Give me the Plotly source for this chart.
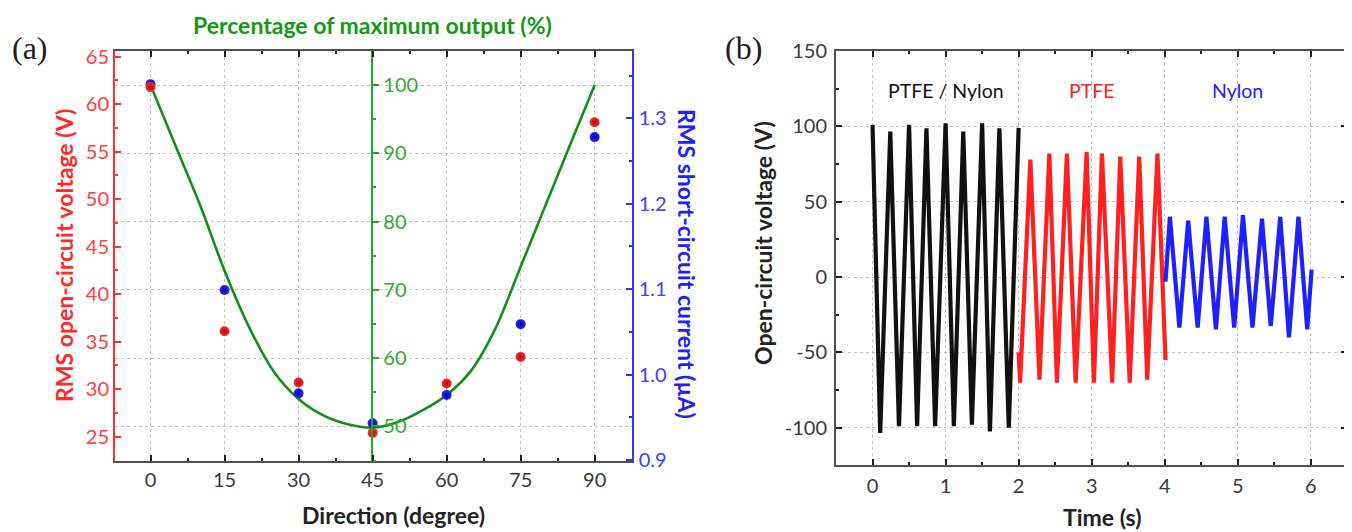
import plotly.graph_objects as go

W, H = 1352, 532
OFF = 8  # page body margin offset of the rendered figure

# ---------------- Panel (a) data ----------------
direction = [0, 15, 30, 45, 60, 75, 90]
rms_voltage = [61.8, 36.1, 30.7, 25.4, 30.6, 33.4, 58.1]
rms_current = [1.340, 1.099, 0.978, 0.943, 0.976, 1.059, 1.278]
fit_direction = [0, 5, 10, 15, 20, 25, 30, 35, 40, 45, 50, 55, 60, 65, 70, 75, 80, 85, 90]
fit_percent = [100, 91.2, 82.5, 72.8, 64.5, 58.0, 54.0, 51.6, 50.3, 49.8, 50.6, 52.3,
               54.6, 58.2, 64.5, 73.4, 82.3, 91.2, 100]
dir_ticks = [0, 15, 30, 45, 60, 75, 90]

# ---------------- Panel (b) data ----------------
t_ptfe_nylon = [0.0, 0.105, 0.243, 0.362, 0.50, 0.61, 0.738, 0.857, 1.0, 1.113, 1.242,
                1.36, 1.5, 1.607, 1.736, 1.865, 2.0]
v_ptfe_nylon = [101, -103.5, 96.5, -99, 101, -99, 98.7, -99, 102, -99, 96.5, -98, 102,
                -102.5, 98.7, -100, 99]
t_ptfe = [2.0, 2.02, 2.16, 2.285, 2.42, 2.524, 2.66, 2.78, 2.93, 3.03, 3.14, 3.28, 3.39,
          3.52, 3.65, 3.76, 3.90, 4.01]
v_ptfe = [-50, -70, 78, -68, 82, -70, 82, -70, 83, -70, 82, -70, 80, -70, 80, -68, 82, -55]
t_nylon = [4.01, 4.07, 4.2, 4.32, 4.45, 4.57, 4.70, 4.82, 4.95, 5.07, 5.20, 5.33, 5.45,
           5.58, 5.70, 5.83, 5.95, 6.01]
v_nylon = [-3, 40, -33.5, 37.5, -33.5, 40, -34.7, 40, -33.5, 41, -33.5, 38.7, -32.5, 40,
           -40, 40, -34.7, 5]
time_ticks = [0, 1, 2, 3, 4, 5, 6]
voltage_ticks = [-100, -50, 0, 50, 100, 150]
voltage_tick_text = ["-100", "-50", "0", "50", "100", "150"]
segment_labels = ["PTFE / Nylon", "PTFE", "Nylon"]
segment_label_t = [1.0, 3.0, 5.0]
segment_colors = ["#111111", "#ff2020", "#2020ff"]

FONT = "Lato"
RED = "#ff3030"
BLUE = "#3030ff"
GREEN_AX = "#2aa52a"
GREEN_LINE = "#13901a"
GREEN_TITLE = "#129a12"
GRID = "#c4c4c4"
FRAME = "#505050"
TICK_SIZE = 20
TITLE_SIZE = 23


def px(x):
    return (x - OFF) / W


def py(y):
    return 1 - (y - OFF) / H


fig = go.Figure()

fig.add_trace(go.Scatter(x=fit_direction, y=fit_percent, mode="lines",
                         line=dict(color=GREEN_LINE, width=2.6, shape="spline", smoothing=0.8),
                         xaxis="x", yaxis="y", showlegend=False))
fig.add_trace(go.Scatter(x=direction, y=rms_current, mode="markers",
                         marker=dict(color="#2828ff", size=10,
                                     gradient=dict(type="radial", color="#0000a0"),
                                     line=dict(width=0)),
                         xaxis="x", yaxis="y2", showlegend=False))
fig.add_trace(go.Scatter(x=direction, y=rms_voltage, mode="markers",
                         marker=dict(color="#ff3030", size=10,
                                     gradient=dict(type="radial", color="#b00000"),
                                     line=dict(width=0)),
                         xaxis="x", yaxis="y3", showlegend=False))

for t, v, c in [(t_ptfe_nylon, v_ptfe_nylon, segment_colors[0]),
                (t_ptfe, v_ptfe, segment_colors[1]),
                (t_nylon, v_nylon, segment_colors[2])]:
    fig.add_trace(go.Scatter(x=t, y=v, mode="lines", line=dict(color=c, width=4.2),
                             xaxis="x2", yaxis="y4", showlegend=False))

dom_a_x = [px(115), px(631.7)]
dom_a_y = [py(461), py(51)]
dom_b_x = [px(836), px(1346.7)]
dom_b_y = [py(465), py(51)]

tickfont = dict(family=FONT, size=TICK_SIZE, color="#3a3a3a")

fig.update_layout(
    width=W, height=H,
    margin=dict(l=0, r=0, t=0, b=0, autoexpand=False),
    paper_bgcolor="white", plot_bgcolor="white",
    font=dict(family=FONT),
    xaxis=dict(domain=dom_a_x, anchor="y", range=[-7.2, 97.5], automargin=False,
               tickvals=dir_ticks, ticks="inside", ticklen=6, tickwidth=2, tickcolor="#222",
               minor=dict(ticks="inside", ticklen=3, tickwidth=2, dtick=7.5, tick0=0, showgrid=False),
               showline=True, linecolor=FRAME, linewidth=2, mirror="ticks",
               showgrid=True, gridcolor=GRID, griddash="dot", gridwidth=1, zeroline=False,
               tickfont=tickfont, ticklabelstandoff=0),
    yaxis=dict(domain=dom_a_y, anchor="free", position=px(372.3), side="right", automargin=False,
               range=[44.93, 104.98], tickvals=[50, 60, 70, 80, 90, 100],
               ticks="outside", ticklen=6, tickwidth=2, tickcolor=GREEN_AX,
               minor=dict(ticks="outside", ticklen=3, tickwidth=2, dtick=5, tick0=0, showgrid=False),
               showline=True, linecolor=GREEN_AX, linewidth=2,
               showgrid=True, gridcolor=GRID, griddash="dot", gridwidth=1, zeroline=False,
               tickfont=dict(family=FONT, size=TICK_SIZE, color="#33aa33")),
    yaxis2=dict(domain=dom_a_y, anchor="x", overlaying="y", side="right", automargin=False,
                range=[0.8988, 1.3788], tickvals=[0.9, 1.0, 1.1, 1.2, 1.3],
                ticktext=["0.9", "1.0", "1.1", "1.2", "1.3"],
                ticks="inside", ticklen=6, tickwidth=2, tickcolor=BLUE,
                minor=dict(ticks="inside", ticklen=3, tickwidth=2, dtick=0.05, tick0=0.9, showgrid=False),
                showline=True, linecolor=BLUE, linewidth=2, showgrid=False, zeroline=False,
                tickfont=dict(family=FONT, size=TICK_SIZE, color="#4040ff"), ticklabelstandoff=1),
    yaxis3=dict(domain=dom_a_y, anchor="x", overlaying="y", side="left", automargin=False,
                range=[22.44, 65.6], tickvals=[25, 30, 35, 40, 45, 50, 55, 60, 65],
                ticks="inside", ticklen=6, tickwidth=2, tickcolor=RED,
                minor=dict(ticks="inside", ticklen=3, tickwidth=2, dtick=2.5, tick0=0, showgrid=False),
                showline=True, linecolor=RED, linewidth=2, showgrid=False, zeroline=False,
                tickfont=dict(family=FONT, size=TICK_SIZE, color="#ff4040"), ticklabelstandoff=0),
    xaxis2=dict(domain=dom_b_x, anchor="y4", range=[-0.5, 6.49], automargin=False,
                tickvals=time_ticks, ticks="inside", ticklen=6, tickwidth=2, tickcolor="#222",
                minor=dict(ticks="inside", ticklen=3, tickwidth=2, dtick=0.5, tick0=0, showgrid=False),
                showline=True, linecolor=FRAME, linewidth=2, mirror="ticks",
                showgrid=True, gridcolor=GRID, griddash="dot", gridwidth=1, zeroline=False,
                tickfont=tickfont, ticklabelstandoff=2),
    yaxis4=dict(domain=dom_b_y, anchor="x2", range=[-124.7, 150], automargin=False,
                tickvals=voltage_ticks, ticktext=voltage_tick_text,
                ticks="inside", ticklen=6, tickwidth=2, tickcolor="#222",
                minor=dict(ticks="inside", ticklen=3, tickwidth=2, dtick=25, tick0=0, showgrid=False),
                showline=True, linecolor=FRAME, linewidth=2, mirror="ticks",
                showgrid=True, gridcolor=GRID, griddash="dot", gridwidth=1, zeroline=False,
                tickfont=tickfont, ticklabelstandoff=3),
)

ann = []


def label(text, x, y, size, color, angle=0, family=FONT):
    ann.append(dict(text=text, x=px(x), y=py(y), xref="paper", yref="paper",
                    xanchor="center", yanchor="middle", showarrow=False, textangle=angle,
                    font=dict(family=family, size=size, color=color)))


# panel letters
label("(a)", 30, 48, 32, "#222", family="Liberation Serif")
label("(b)", 743, 48, 32, "#222", family="Liberation Serif")
# axis titles panel (a)
label("<b>Percentage of maximum output (%)</b>", 372.5, 25, TITLE_SIZE, GREEN_TITLE)
label("<b>RMS open-circuit voltage (V)</b>", 64, 256, TITLE_SIZE, "#ff2a2a", angle=-90)
label("<b>RMS short-circuit current (µA)</b>", 687, 264, TITLE_SIZE, "#2020ff", angle=90)
label("<b>Direction (degree)</b>", 393, 515, TITLE_SIZE, "#222")
# axis titles panel (b)
label("<b>Open-circuit voltage (V)</b>", 763, 243, TITLE_SIZE, "#222", angle=-90)
label("<b>Time (s)</b>", 1102, 517, TITLE_SIZE, "#222")
for lab, tx, col in zip(segment_labels, segment_label_t, segment_colors):
    ann.append(dict(text=lab, x=tx, y=124, xref="x2", yref="y4", showarrow=False,
                    xanchor="center", yanchor="middle",
                    font=dict(family=FONT, size=19.5, color=col)))

fig.update_layout(annotations=ann)

fig.write_html("out.html")
